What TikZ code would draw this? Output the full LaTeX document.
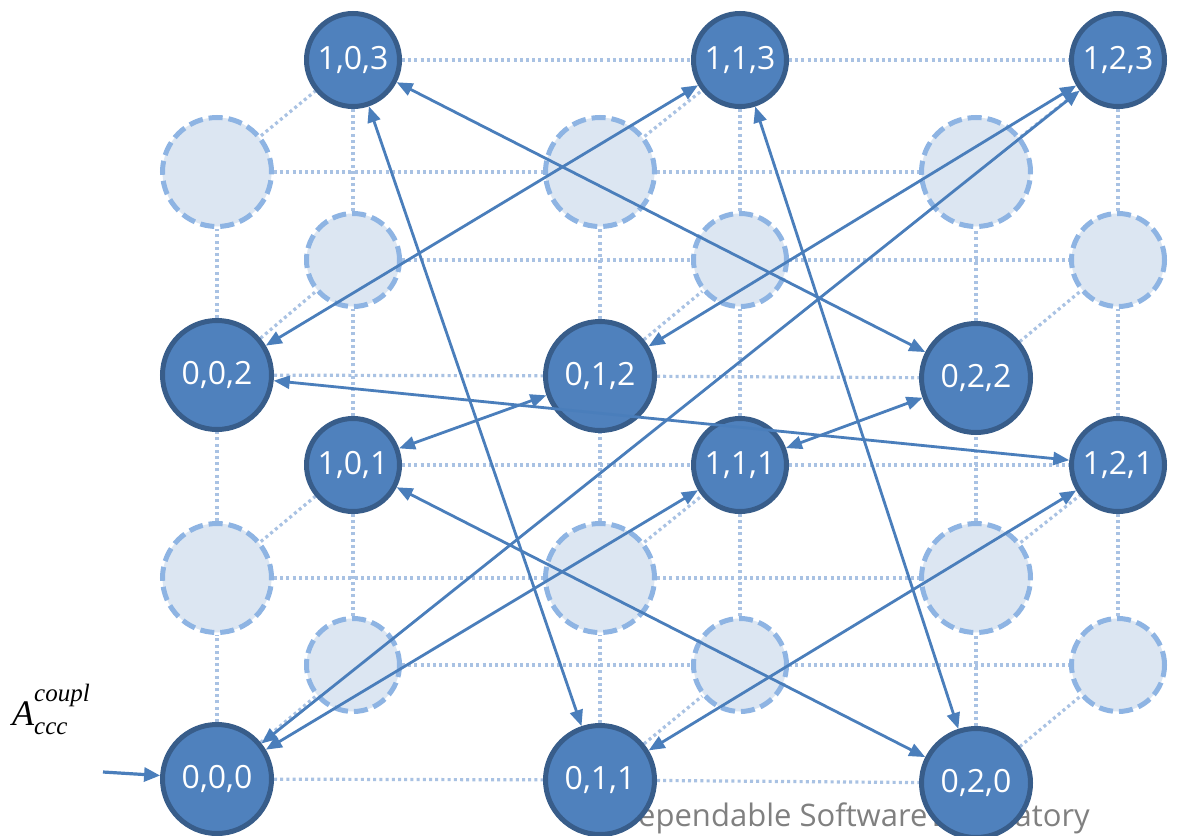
\documentclass[tikz,border=0pt]{standalone}
\usepackage{fontspec}
\setmainfont{Open Sans}
\newfontfamily\tms{Liberation Serif}
\usetikzlibrary{arrows.meta}

\definecolor{nodefill}{HTML}{4F81BD}
\definecolor{nodeedge}{HTML}{385D8A}
\definecolor{ghostfill}{HTML}{DCE6F2}
\definecolor{ghostedge}{HTML}{8EB4E3}
\definecolor{gridline}{HTML}{A9C2E3}
\definecolor{linkline}{HTML}{4A7EBB}
\definecolor{labgray}{HTML}{808080}

\pgfdeclarelayer{background}
\pgfsetlayers{background,main}

\tikzset{
  solidnode/.style={circle, fill=nodefill, draw=nodeedge, line width=5pt,
    text=white, font=\fontsize{32}{36}\selectfont, inner sep=0pt},
  ghost/.style={circle, fill=ghostfill, draw=ghostedge, line width=5pt,
    dash pattern=on 14pt off 6pt, inner sep=0pt},
  front/.style={minimum size=109pt},
  back/.style={minimum size=93pt},
  gridedge/.style={draw=gridline, line width=3.2pt, dash pattern=on 3pt off 3.2pt},
  link/.style={draw=linkline, line width=2.8pt,
    {Triangle[length=16pt,width=13pt]}-{Triangle[length=16pt,width=13pt]}},
  inlink/.style={draw=linkline, line width=3.2pt,
    -{Triangle[length=16pt,width=14pt]}},
}

\begin{document}
\begin{tikzpicture}[x=1pt,y=-1pt]
\useasboundingbox (0,0) rectangle (1177,835);

% front plane (first index 0)
\node[solidnode,front] (f00) at (217,779) {0,0,0};
\node[solidnode,front] (f10) at (600,780) {0,1,1};
\node[solidnode,front] (f20) at (976,783) {0,2,0};
\node[ghost,front] (f01) at (217,578) {};
\node[ghost,front] (f11) at (600,578) {};
\node[ghost,front] (f21) at (976,578) {};
\node[solidnode,front] (f02) at (217,375) {0,0,2};
\node[solidnode,front] (f12) at (600,376) {0,1,2};
\node[solidnode,front] (f22) at (976,378) {0,2,2};
\node[ghost,front] (f03) at (217,172) {};
\node[ghost,front] (f13) at (600,172) {};
\node[ghost,front] (f23) at (976,172) {};

% back plane (first index 1)
\node[ghost,back] (b00) at (353,665) {};
\node[ghost,back] (b10) at (740,665) {};
\node[ghost,back] (b20) at (1118,665) {};
\node[solidnode,back] (b01) at (353,465) {1,0,1};
\node[solidnode,back] (b11) at (740,465) {1,1,1};
\node[solidnode,back] (b21) at (1118,465) {1,2,1};
\node[ghost,back] (b02) at (353,260) {};
\node[ghost,back] (b12) at (740,260) {};
\node[ghost,back] (b22) at (1118,260) {};
\node[solidnode,back] (b03) at (353,60) {1,0,3};
\node[solidnode,back] (b13) at (740,60) {1,1,3};
\node[solidnode,back] (b23) at (1118,60) {1,2,3};

\begin{pgfonlayer}{background}
  \fill[white] (0,0) rectangle (1177,835);
  % lattice edges
  \foreach \c in {0,1,2} {
    \foreach \r/\s in {0/1,1/2,2/3} {
      \draw[gridedge] (f\c\r) -- (f\c\s);
      \draw[gridedge] (b\c\r) -- (b\c\s);
    }
    \foreach \r in {0,1,2,3} {
      \draw[gridedge] (f\c\r) -- (b\c\r);
    }
  }
  \foreach \r in {0,1,2,3} {
    \draw[gridedge] (f0\r) -- (f1\r);
    \draw[gridedge] (f1\r) -- (f2\r);
    \draw[gridedge] (b0\r) -- (b1\r);
    \draw[gridedge] (b1\r) -- (b2\r);
  }
  \node[anchor=base east, inner sep=0pt, text=labgray,
        font=\fontsize{31}{36}\selectfont] (lab) at (1090,826)
        {Dependable Software\hspace{-4pt} Laboratory};
\end{pgfonlayer}

% coupling links
\draw[link] (b03) -- (f10);
\draw[link] (b03) -- (f22);
\draw[link] (b13) -- (f02);
\draw[link] (b13) -- (f20);
\draw[link] (b23) -- (f12);
\draw[link] (b23) -- (f00);
\draw[link] (f02) -- (b21);
\draw[link] (f12) -- (b01);
\draw[link] (f22) -- (b11);
\draw[link] (b01) -- (f20);
\draw[link] (b11) -- (f00);
\draw[link] (b21) -- (f10);

% entry
\coordinate (src) at (103,772);
\draw[inlink] (src) -- (f00);
\node[anchor=base west, inner sep=0pt] (acoupl) at (12,725)
  {\tms\itshape\fontsize{36}{42}\selectfont A\rlap{\raisebox{24pt}{\fontsize{25}{30}\selectfont coupl}}\raisebox{-9pt}{\fontsize{25}{30}\selectfont ccc}};
\end{tikzpicture}
\end{document}
